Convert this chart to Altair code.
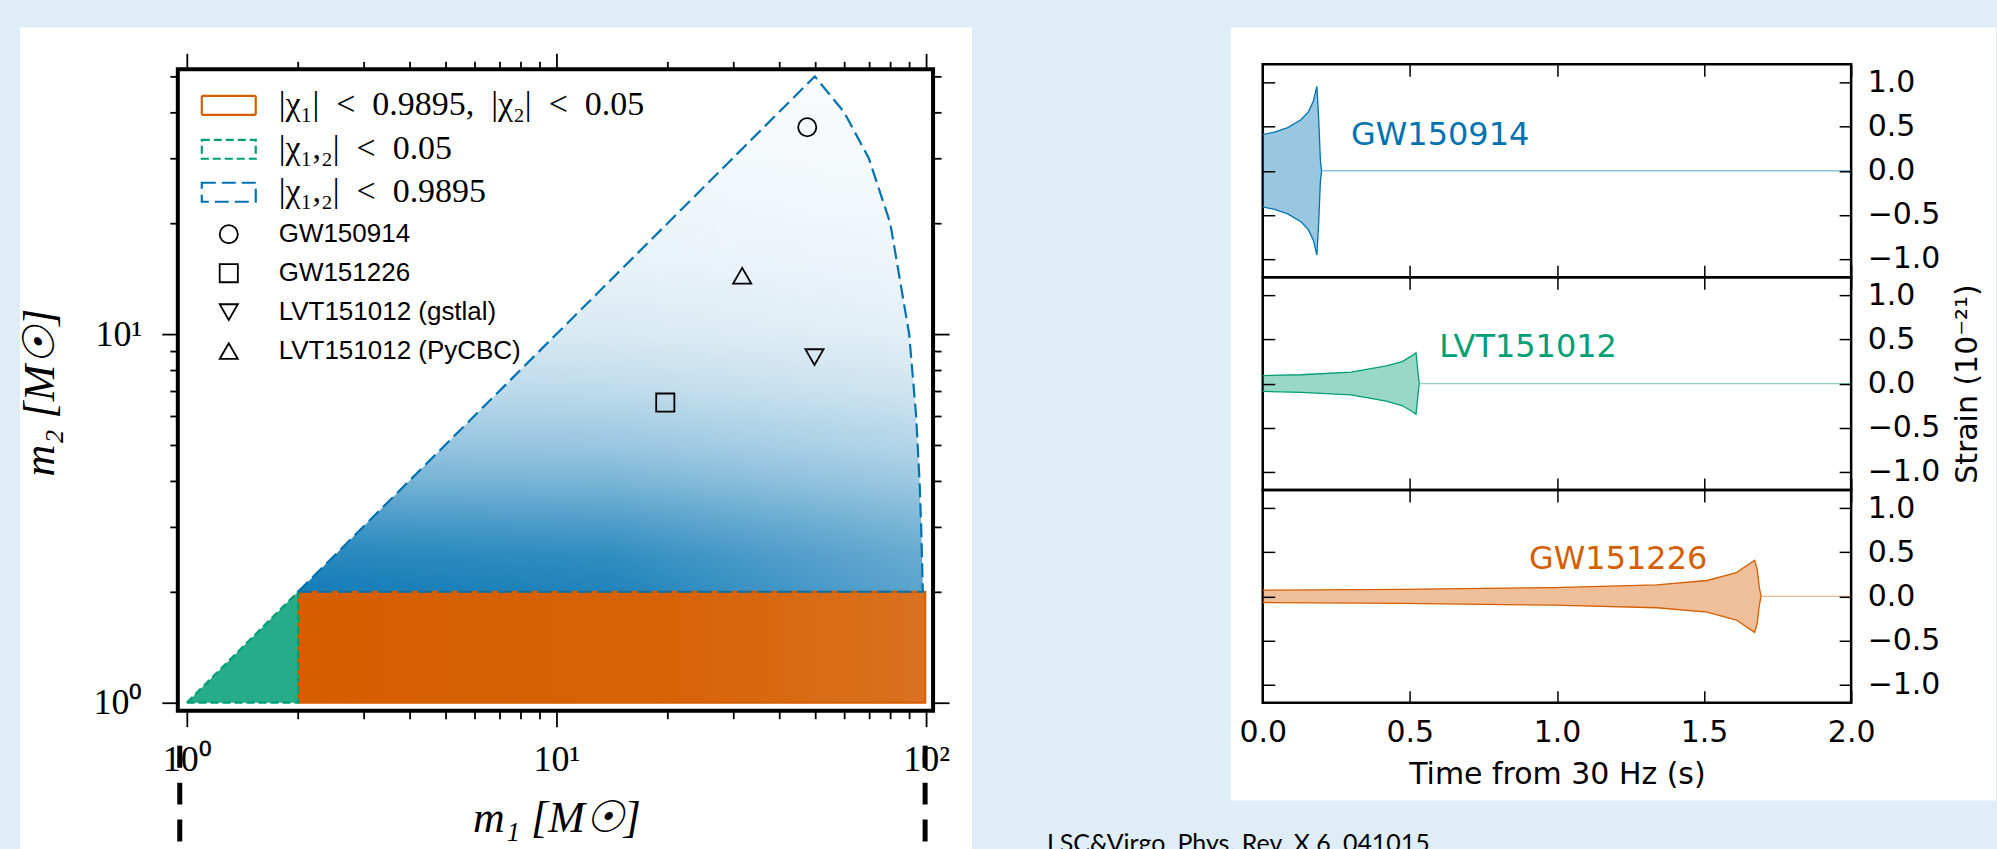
import math
import altair as alt
import pandas as pd

# ---------------------------------------------------------------- colours / fonts
BLUE = "#0072B2"
GREEN = "#009E73"
ORANGE = "#D55E00"
PAGE_BG = "#dfedf6"
SERIF = "Liberation Serif"
SANS = "Liberation Sans"
MPL = "DejaVu Sans"
EN = "\u2002"   # en space: keeps the wide math spacing around relations

# ---------------------------------------------------------------- template bank (m1, m2)
# upper edge of the |chi_1,2| < 0.9895 region: m2 = m1 up to 50, then m1 + m2 = 100
blue_m1 = [2, 50, 60, 70, 80, 90, 94, 96, 97, 98]
blue_m2 = [2, 50, 40, 30, 20, 10, 6, 4, 3, 2]
blue_floor = 2
# |chi_1,2| < 0.05 triangle
green_m1 = [1, 2]
green_m2 = [1, 2]
green_floor = 1
# |chi_1| < 0.9895, |chi_2| < 0.05 rectangle
orange_m1 = [2, 99.5]
orange_m2 = [1, 2]
# coverage of the aligned-spin templates as m2 grows
density_m2 = [2, 2.5, 3, 4, 5, 7, 10, 15, 20, 30, 50]
density = [0.92, 0.85, 0.75, 0.55, 0.42, 0.27, 0.16, 0.10, 0.08, 0.05, 0.03]

region_labels = [
    f"|χ₁|{EN}<{EN}0.9895,{EN}|χ₂|{EN}<{EN}0.05",
    f"|χ₁,₂|{EN}<{EN}0.05",
    f"|χ₁,₂|{EN}<{EN}0.9895",
]
region_colors = [ORANGE, GREEN, BLUE]
region_dashes = [[1, 0], [8, 4], [14, 6]]

event_names = ["GW150914", "GW151226", "LVT151012 (gstlal)", "LVT151012 (PyCBC)"]
event_m1 = [47.7, 19.7, 49.9, 31.8]
event_m2 = [36.4, 6.52, 8.66, 14.4]
event_shapes = ["circle", "square", "triangle-down", "triangle-up"]

m1_ticks = [1, 2, 3, 4, 5, 6, 7, 8, 9, 10, 20, 30, 40, 50, 60, 70, 80, 90, 100]
m2_ticks = [1, 2, 3, 4, 5, 6, 7, 8, 9, 10, 20, 30, 40, 50]
mass_limits = [0.957, 99.4]
M1_DOMAIN = [0.9455, 104.45]
M2_DOMAIN = [0.9513, 53.91]

# ---------------------------------------------------------------- waveform envelopes
gw150914_t = [0.0, 0.04, 0.085, 0.13, 0.155, 0.172, 0.184, 0.19, 0.196, 0.2]
gw150914_a = [0.41, 0.44, 0.49, 0.58, 0.67, 0.79, 0.96, 0.6, 0.12, 0.0]
lvt151012_t = [0.0, 0.13, 0.3, 0.42, 0.474, 0.509, 0.521, 0.527, 0.532]
lvt151012_a = [0.09, 0.1, 0.13, 0.2, 0.25, 0.32, 0.35, 0.15, 0.0]
gw151226_t = [0.0, 0.47, 0.99, 1.34, 1.51, 1.61, 1.672, 1.681, 1.688, 1.694]
gw151226_a = [0.07, 0.08, 0.1, 0.13, 0.18, 0.27, 0.41, 0.3, 0.1, 0.0]
wave_names = ["GW150914", "LVT151012", "GW151226"]
wave_colors = [BLUE, GREEN, ORANGE]
name_t = [0.30, 0.60, 0.905]
name_s = [0.41, 0.42, 0.43]
time_ticks = [0.0, 0.5, 1.0, 1.5, 2.0]
strain_ticks = [-1.0, -0.5, 0.0, 0.5, 1.0]
T_DOMAIN = [0.0, 2.0]
S_DOMAIN = [-1.21, 1.21]

# ---------------------------------------------------------------- layout (pixels)
OX, OY = 177, 63            # page position of the left plot origin
PAGE_W, PAGE_H = 1997, 849
OVERHANG = 7                # the citation line runs past the bottom edge of the page
LEFT_W, LEFT_H = 756, 647
FRAME_TOP = 5
PANEL_W, PANEL_H = 589, 213
GAP = 1263 - OX - LEFT_W
LEG_Y = [41, 85, 128, 170, 209, 248, 287]

one = pd.DataFrame({"k": [0]})


def page_rect(x0, x1, y0, y1, color):
    return alt.Chart(one).mark_rect(color=color).encode(
        x=alt.value(x0 - OX), x2=alt.value(x1 - OX),
        y=alt.value(y0 - OY), y2=alt.value(y1 - OY))


x_scale = alt.Scale(type="log", domain=M1_DOMAIN, nice=False)
y_scale = alt.Scale(type="log", domain=M2_DOMAIN, nice=False)


def mx(field, axis=None):
    return alt.X(f"{field}:Q", scale=x_scale, axis=axis)


def my(field, axis=None):
    return alt.Y(f"{field}:Q", scale=y_scale, axis=axis)


major_x = "datum.value == 1 || datum.value == 10 || datum.value == 100"
major_y = "datum.value == 1 || datum.value == 10"
decade_label = "datum.value == 1 ? '10⁰' : datum.value == 10 ? '10¹' : datum.value == 100 ? '10²' : ''"


def tick_len(test):
    return {"condition": {"test": test, "value": 16}, "value": 8}


common_ticks = dict(tickWidth=1.8, tickColor="black", domain=False, grid=False, zindex=1)

ax_bottom = alt.Axis(
    orient="bottom", values=m1_ticks, tickSize=tick_len(major_x), labelExpr=decade_label,
    labelFont=SERIF, labelFontSize=36, labelColor="black", labelPadding=16,
    labelOverlap=False, labelFlush=False,
    title="m₁ [M☉]", titleFont=SERIF, titleFontSize=44, titleFontStyle="italic",
    titleFontWeight="normal", titleColor="black", titleX=LEFT_W / 2 + 1, titleY=108,
    titleAlign="center", titleBaseline="middle", **common_ticks)
ax_left = alt.Axis(
    orient="left", values=m2_ticks, tickSize=tick_len(major_y), labelExpr=decade_label,
    labelFont=SERIF, labelFontSize=36, labelColor="black", labelPadding=20,
    labelOverlap=False, labelFlush=False,
    title="m₂ [M☉]", titleFont=SERIF, titleFontSize=44, titleFontStyle="italic",
    titleFontWeight="normal", titleColor="black", titleAngle=270, titleX=-137, titleY=328,
    titleAlign="center", titleBaseline="middle", **common_ticks)
ax_top = alt.Axis(orient="top", values=m1_ticks, tickSize=tick_len(major_x), offset=-FRAME_TOP,
                  labels=False, title=None, **common_ticks)
ax_right = alt.Axis(orient="right", values=m2_ticks, tickSize=tick_len(major_y),
                    labels=False, title=None, **common_ticks)

# page background and the two white cards
page = [
    page_rect(0, PAGE_W, 0, PAGE_H + OVERHANG, PAGE_BG),
    page_rect(19, 972, 26, PAGE_H + OVERHANG, "white"),
    page_rect(1231, PAGE_W, 26, 800, "white"),
]

# blue region, shaded by template density (denser at small m2, thinner towards large m1)
lo_log, hi_log = math.log10(blue_floor), math.log10(max(blue_m2))
blue_fill = alt.LinearGradient(
    gradient="linear", x1=0, y1=1, x2=0, y2=0,
    stops=[alt.GradientStop(offset=(math.log10(m) - lo_log) / (hi_log - lo_log),
                            color=f"rgba(0,114,178,{d})")
           for m, d in zip(density_m2, density)])
thin_right = alt.LinearGradient(
    gradient="linear", x1=0, y1=0, x2=1, y2=0,
    stops=[alt.GradientStop(offset=0, color="rgba(255,255,255,0)"),
           alt.GradientStop(offset=0.5, color="rgba(255,255,255,0.05)"),
           alt.GradientStop(offset=1, color="rgba(255,255,255,0.3)")])
blue_df = pd.DataFrame({"m1": blue_m1, "top": blue_m2, "bottom": [blue_floor] * len(blue_m1)})
blue_area = alt.Chart(blue_df).mark_area(fill=blue_fill).encode(
    x=mx("m1"), y=my("bottom"), y2="top:Q")
blue_thin = alt.Chart(blue_df).mark_area(fill=thin_right).encode(
    x=mx("m1"), y=my("bottom"), y2="top:Q")

green_df = pd.DataFrame({"m1": green_m1, "top": green_m2, "bottom": [green_floor] * len(green_m1)})
green_area = alt.Chart(green_df).mark_area(fill=GREEN, fillOpacity=0.85).encode(
    x=mx("m1"), y=my("bottom"), y2="top:Q")

orange_fill = alt.LinearGradient(
    gradient="linear", x1=0, y1=0, x2=1, y2=0,
    stops=[alt.GradientStop(offset=0, color="rgba(213,94,0,1)"),
           alt.GradientStop(offset=0.6, color="rgba(213,94,0,0.97)"),
           alt.GradientStop(offset=1, color="rgba(213,94,0,0.88)")])
orange_df = pd.DataFrame({"m1a": [orange_m1[0]], "m1b": [orange_m1[1]],
                          "m2a": [orange_m2[0]], "m2b": [orange_m2[1]]})
orange_rect = alt.Chart(orange_df).mark_rect(fill=orange_fill, stroke=ORANGE, strokeWidth=2).encode(
    x=mx("m1a", ax_bottom), x2="m1b:Q", y=my("m2a", ax_left), y2="m2b:Q")

# region outlines
green_path = pd.DataFrame({
    "m1": [green_m1[0], green_m1[1], green_m1[1], green_m1[0]],
    "m2": [green_m2[0], green_m2[1], green_floor, green_floor],
    "i": [0, 1, 2, 3]})
green_line = alt.Chart(green_path).mark_line(color=GREEN, strokeWidth=2.2, strokeDash=[8, 4]).encode(
    x=mx("m1"), y=my("m2"), order="i:Q")
blue_path = pd.DataFrame({
    "m1": blue_m1 + [blue_m1[0]],
    "m2": blue_m2 + [blue_floor],
    "i": list(range(len(blue_m1) + 1))})
blue_line = alt.Chart(blue_path).mark_line(color=BLUE, strokeWidth=2.2, strokeDash=[14, 6]).encode(
    x=mx("m1"), y=my("m2"), order="i:Q")

# detected events
ev_df = pd.DataFrame({"name": event_names, "m1": event_m1, "m2": event_m2})
markers = alt.Chart(ev_df).mark_point(filled=False, color="black", strokeWidth=1.8, size=330,
                                      opacity=1).encode(
    x=mx("m1", ax_top), y=my("m2", ax_right),
    shape=alt.Shape("name:N", scale=alt.Scale(domain=event_names, range=event_shapes), legend=None))

frame = alt.Chart(one).mark_rect(fill="white", fillOpacity=0, stroke="black", strokeWidth=4).encode(
    x=alt.value(0), x2=alt.value(LEFT_W), y=alt.value(FRAME_TOP), y2=alt.value(LEFT_H))

# legend
legend = []
for i, (lab, col, dash) in enumerate(zip(region_labels, region_colors, region_dashes)):
    yy = LEG_Y[i]
    legend.append(alt.Chart(one).mark_rect(fill="white", fillOpacity=0, stroke=col, strokeWidth=2.2,
                                           strokeDash=dash).encode(
        x=alt.value(24), x2=alt.value(78), y=alt.value(yy - 9.5), y2=alt.value(yy + 9.5)))
    legend.append(alt.Chart(one).mark_text(align="left", baseline="middle", font=SERIF, fontSize=34,
                                           color="black").encode(
        x=alt.value(101), y=alt.value(yy), text=alt.value(lab)))
for j, (name, shape) in enumerate(zip(event_names, event_shapes)):
    yy = LEG_Y[3 + j]
    legend.append(alt.Chart(one).mark_point(shape=shape, filled=False, color="black", strokeWidth=1.8,
                                            size=330, opacity=1).encode(
        x=alt.value(51), y=alt.value(yy)))
    legend.append(alt.Chart(one).mark_text(align="left", baseline="middle", font=SANS, fontSize=26,
                                           color="black").encode(
        x=alt.value(101), y=alt.value(yy), text=alt.value(name)))

# dashed markers of the mass range under the axis
limits = alt.Chart(pd.DataFrame({"m1": mass_limits})).mark_rule(
    color="black", strokeWidth=5, strokeDash=[22, 15]).encode(
    x=mx("m1"), y=alt.value(745 - OY), y2=alt.value(PAGE_H - OY))

citation = alt.Chart(one).mark_text(align="left", baseline="alphabetic", font="Lato", fontSize=25,
                                    color="black").encode(
    x=alt.value(1047 - OX), y=alt.value(851 - OY),
    text=alt.value("LSC&Virgo, Phys. Rev. X 6, 041015"))

left = alt.layer(
    *page, blue_area, blue_thin, green_area, orange_rect, green_line, blue_line, markers, frame,
    *legend, limits, citation
).resolve_axis(x="independent", y="independent").properties(width=LEFT_W, height=LEFT_H)


# ---------------------------------------------------------------- strain panels
def time_axis(orient, show):
    kw = dict(orient=orient, values=time_ticks, offset=-12, tickSize=12, tickWidth=1.5,
              tickColor="black", domain=False, grid=False, labels=show, zindex=1, title=None)
    if show:
        kw.update(format=".1f", labelFont=MPL, labelFontSize=30, labelColor="black",
                  labelPadding=15, labelFlush=False, labelOverlap=False,
                  title="Time from 30 Hz (s)", titleFont=MPL, titleFontSize=30,
                  titleFontWeight="normal", titleColor="black", titleX=PANEL_W / 2, titleY=84,
                  titleAlign="center", titleBaseline="middle")
    return alt.Axis(**kw)


def strain_axis(orient, show, title):
    kw = dict(orient=orient, values=strain_ticks, offset=-12, tickSize=12, tickWidth=1.5,
              tickColor="black", domain=False, grid=False, labels=show, zindex=1, title=None)
    if show:
        kw.update(format=".1f", labelFont=MPL, labelFontSize=30, labelColor="black",
                  labelPadding=16, labelFlush=False, labelOverlap=False)
    if title:
        kw.update(title="Strain (10⁻²¹)", titleFont=MPL, titleFontSize=30, titleFontWeight="normal",
                  titleColor="black", titleAngle=270, titleX=128, titleY=PANEL_H / 2,
                  titleAlign="center", titleBaseline="middle")
    return alt.Axis(**kw)


def strain_panel(k, t, a):
    color = wave_colors[k]
    xs = alt.Scale(domain=T_DOMAIN, nice=False, zero=False)
    ys = alt.Scale(domain=S_DOMAIN, nice=False, zero=False)
    band = pd.DataFrame({"t": t, "hi": a, "lo": [-v for v in a]})
    tail = pd.DataFrame({"t0": [t[-1]], "t1": [T_DOMAIN[1]], "s": [0.0]})
    label = pd.DataFrame({"t": [name_t[k]], "s": [name_s[k]], "name": [wave_names[k]]})
    area = alt.Chart(band).mark_area(color=color, opacity=0.4).encode(
        x=alt.X("t:Q", scale=xs, axis=time_axis("bottom", k == 2)),
        y=alt.Y("lo:Q", scale=ys, axis=strain_axis("left", False, False)),
        y2="hi:Q")
    edges = [
        alt.Chart(band).mark_line(color=color, strokeWidth=1.3).encode(
            x=alt.X("t:Q", scale=xs, axis=None), y=alt.Y(f"{f}:Q", scale=ys, axis=None))
        for f in ("hi", "lo")
    ]
    tail_rule = alt.Chart(tail).mark_rule(color=color, strokeWidth=1.3, opacity=0.45).encode(
        x=alt.X("t0:Q", scale=xs, axis=time_axis("top", False)), x2="t1:Q",
        y=alt.Y("s:Q", scale=ys, axis=strain_axis("right", True, k == 1)))
    text = alt.Chart(label).mark_text(align="left", baseline="middle", font=MPL, fontSize=32,
                                      color=color).encode(
        x=alt.X("t:Q", scale=xs, axis=None), y=alt.Y("s:Q", scale=ys, axis=None), text="name:N")
    return alt.layer(area, *edges, tail_rule, text).resolve_axis(
        x="independent", y="independent").properties(
        width=PANEL_W, height=PANEL_H,
        view=alt.ViewBackground(stroke="black", strokeWidth=2.5))


panels = [
    strain_panel(0, gw150914_t, gw150914_a),
    strain_panel(1, lvt151012_t, lvt151012_a),
    strain_panel(2, gw151226_t, gw151226_a),
]
right = alt.vconcat(*panels, spacing=0, bounds="flush")

chart = alt.hconcat(left, right, spacing=GAP, bounds="flush").properties(
    padding={"left": 0, "top": 0, "right": 0, "bottom": -OVERHANG},
    background=PAGE_BG, autosize=alt.AutoSizeParams(type="pad")
).configure_view(stroke="transparent")

chart.save("out.html", embed_options={"renderer": "svg", "actions": False})
